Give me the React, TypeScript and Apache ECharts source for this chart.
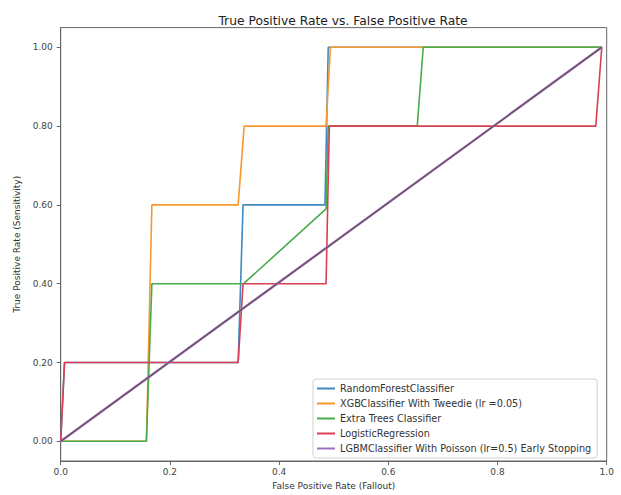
import React, { useEffect, useRef } from "react";
import * as echarts from "echarts";

// ---- data ----
const seriesNames = [
  "RandomForestClassifier",
  "XGBClassifier With Tweedie (lr =0.05)",
  "Extra Trees Classifier",
  "LogisticRegression",
  "LGBMClassifier With Poisson (lr=0.5) Early Stopping",
];

const rfX = [0, 0.007, 0.325, 0.334, 0.484, 0.49, 0.991];
const rfY = [0, 0.2, 0.2, 0.6, 0.6, 1.0, 1.0];

const xgbX = [0, 0.157, 0.167, 0.325, 0.336, 0.486, 0.494, 0.991];
const xgbY = [0, 0, 0.6, 0.6, 0.8, 0.8, 1.0, 1.0];

const etX = [0, 0.157, 0.167, 0.335, 0.486, 0.49, 0.653, 0.664, 0.991];
const etY = [0, 0, 0.4, 0.4, 0.59, 0.8, 0.8, 1.0, 1.0];

const lrX = [0, 0.007, 0.325, 0.334, 0.486, 0.492, 0.98, 0.991];
const lrY = [0, 0.2, 0.2, 0.4, 0.4, 0.8, 0.8, 1.0];

const lgbmX = [0, 0.991];
const lgbmY = [0, 1.0];

const diagX = [0, 0.991];
const diagY = [0, 1.0];

const xTicks = [0, 0.2, 0.4, 0.6, 0.8, 1.0];
const yTicks = [0, 0.2, 0.4, 0.6, 0.8, 1.0];

const colors = ["#3d8ac4", "#f7982f", "#4aab4a", "#da3f52", "#9a72c2"];
const diagColor = "#6e5058";

const zip = (xs: number[], ys: number[]) => xs.map((x, i) => [x, ys[i]]);

export default function App() {
  const ref = useRef<HTMLDivElement>(null);
  useEffect(() => {
    if (!ref.current) return;
    const chart = echarts.init(ref.current, null, { renderer: "svg" });
    const font = "DejaVu Sans";
    const gridLeft = 60.7;
    const gridRight = 606.7;
    const gridTop = 27.6;
    const gridBottom = 461;
    const datasets = [
      zip(rfX, rfY),
      zip(xgbX, xgbY),
      zip(etX, etY),
      zip(lrX, lrY),
      zip(lgbmX, lgbmY),
    ];
    const series: any[] = datasets.map((d, i) => ({
      name: seriesNames[i],
      type: "line",
      data: d,
      symbol: "none",
      showSymbol: false,
      lineStyle: { color: colors[i], width: i === 4 ? 2.4 : 1.6 },
      itemStyle: { color: colors[i] },
      z: 2 + i,
    }));
    series.push({
      name: "diag",
      type: "line",
      data: zip(diagX, diagY),
      symbol: "none",
      showSymbol: false,
      lineStyle: { color: diagColor, width: 1.2 },
      itemStyle: { color: diagColor },
      z: 10,
    });
    chart.setOption({
      animation: false,
      backgroundColor: "#ffffff",
      title: {
        text: "True Positive Rate vs. False Positive Rate",
        left: 338,
        top: 10,
        textAlign: "center",
        textStyle: {
          fontFamily: font,
          fontSize: 12.3,
          fontWeight: "normal",
          color: "#222",
        },
      },
      grid: {
        left: gridLeft,
        right: 621 - gridRight,
        top: gridTop,
        bottom: 495 - gridBottom,
        show: true,
        borderColor: "#666",
        borderWidth: 1,
        backgroundColor: "transparent",
      },
      legend: {
        data: seriesNames,
        orient: "vertical",
        left: 313,
        top: 379,
        padding: [4, 6, 4, 4],
        icon: "rect",
        itemWidth: 18,
        itemHeight: 2,
        itemGap: 4,
        borderColor: "#d0d0d0",
        borderWidth: 1,
        borderRadius: 3,
        backgroundColor: "rgba(255,255,255,0.85)",
        textStyle: {
          fontFamily: font,
          fontSize: 9.7,
          lineHeight: 11,
          color: "#333",
        },
      },
      xAxis: {
        type: "value",
        min: 0,
        max: 1,
        name: "False Positive Rate (Fallout)",
        nameLocation: "middle",
        nameGap: 20,
        nameTextStyle: { fontFamily: font, fontSize: 9, color: "#333" },
        splitLine: { show: false },
        axisLine: { show: true, onZero: false, lineStyle: { color: "#666" } },
        axisTick: {
          show: true,
          length: 4,
          customValues: xTicks,
          lineStyle: { color: "#666" },
        },
        axisLabel: {
          customValues: xTicks,
          margin: 6,
          fontFamily: font,
          fontSize: 9,
          color: "#444",
          formatter: (v: number) => v.toFixed(1),
        },
      },
      yAxis: {
        type: "value",
        min: -0.05,
        max: 1.05,
        name: "True Positive Rate (Sensitivity)",
        nameLocation: "middle",
        nameGap: 34,
        nameTextStyle: { fontFamily: font, fontSize: 9, color: "#333" },
        splitLine: { show: false },
        axisLine: { show: true, onZero: false, lineStyle: { color: "#666" } },
        axisTick: {
          show: true,
          length: 4,
          customValues: yTicks,
          lineStyle: { color: "#666" },
        },
        axisLabel: {
          customValues: yTicks,
          margin: 8,
          fontFamily: font,
          fontSize: 9,
          color: "#444",
          formatter: (v: number) => v.toFixed(2),
        },
      },
      series,
    });
    return () => chart.dispose();
  }, []);
  return (
    <div
      ref={ref}
      style={{ position: "absolute", left: 0, top: 0, width: 621, height: 495 }}
    />
  );
}
